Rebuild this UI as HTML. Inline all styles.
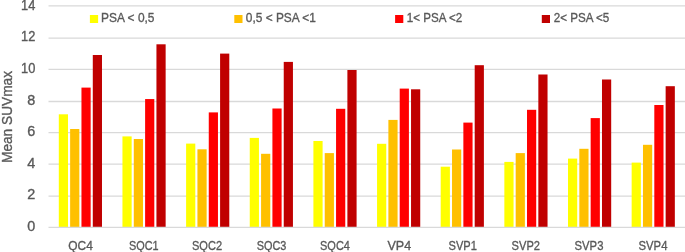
<!DOCTYPE html><html><head><meta charset="utf-8"><style>html,body{margin:0;padding:0;background:#fff;overflow:hidden}svg{display:block;will-change:transform}text{font-family:"Liberation Sans",sans-serif;fill:#595959;stroke:#595959;stroke-width:0.35px}</style></head><body><svg width="685" height="252" viewBox="0 0 685 252"><rect width="685" height="252" fill="#fff"/><line x1="48.50" y1="5.95" x2="685.00" y2="5.95" stroke="#D9D9D9" stroke-width="1.3"/><line x1="48.50" y1="38.10" x2="685.00" y2="38.10" stroke="#D9D9D9" stroke-width="1.3"/><line x1="48.50" y1="69.40" x2="685.00" y2="69.40" stroke="#D9D9D9" stroke-width="1.3"/><line x1="48.50" y1="101.50" x2="685.00" y2="101.50" stroke="#D9D9D9" stroke-width="1.3"/><line x1="48.50" y1="132.55" x2="685.00" y2="132.55" stroke="#D9D9D9" stroke-width="1.3"/><line x1="48.50" y1="164.10" x2="685.00" y2="164.10" stroke="#D9D9D9" stroke-width="1.3"/><line x1="48.50" y1="196.10" x2="685.00" y2="196.10" stroke="#D9D9D9" stroke-width="1.3"/><rect x="58.80" y="114.30" width="9.20" height="113.10" fill="#FFFF00"/><rect x="70.13" y="129.00" width="9.20" height="98.40" fill="#FFC000"/><rect x="81.46" y="87.60" width="9.20" height="139.80" fill="#FF0000"/><rect x="92.79" y="55.00" width="9.20" height="172.40" fill="#C00000"/><rect x="122.45" y="136.40" width="9.20" height="91.00" fill="#FFFF00"/><rect x="133.78" y="139.00" width="9.20" height="88.40" fill="#FFC000"/><rect x="145.11" y="99.05" width="9.20" height="128.35" fill="#FF0000"/><rect x="156.44" y="44.30" width="9.20" height="183.10" fill="#C00000"/><rect x="186.10" y="143.60" width="9.20" height="83.80" fill="#FFFF00"/><rect x="197.43" y="149.30" width="9.20" height="78.10" fill="#FFC000"/><rect x="208.76" y="112.40" width="9.20" height="115.00" fill="#FF0000"/><rect x="220.09" y="53.60" width="9.20" height="173.80" fill="#C00000"/><rect x="249.75" y="137.90" width="9.20" height="89.50" fill="#FFFF00"/><rect x="261.08" y="153.80" width="9.20" height="73.60" fill="#FFC000"/><rect x="272.41" y="108.50" width="9.20" height="118.90" fill="#FF0000"/><rect x="283.74" y="61.90" width="9.20" height="165.50" fill="#C00000"/><rect x="313.40" y="141.00" width="9.20" height="86.40" fill="#FFFF00"/><rect x="324.73" y="153.10" width="9.20" height="74.30" fill="#FFC000"/><rect x="336.06" y="108.80" width="9.20" height="118.60" fill="#FF0000"/><rect x="347.39" y="70.00" width="9.20" height="157.40" fill="#C00000"/><rect x="377.05" y="143.80" width="9.20" height="83.60" fill="#FFFF00"/><rect x="388.38" y="119.90" width="9.20" height="107.50" fill="#FFC000"/><rect x="399.71" y="88.60" width="9.20" height="138.80" fill="#FF0000"/><rect x="411.04" y="89.30" width="9.20" height="138.10" fill="#C00000"/><rect x="440.70" y="166.70" width="9.20" height="60.70" fill="#FFFF00"/><rect x="452.03" y="149.50" width="9.20" height="77.90" fill="#FFC000"/><rect x="463.36" y="122.60" width="9.20" height="104.80" fill="#FF0000"/><rect x="474.69" y="65.20" width="9.20" height="162.20" fill="#C00000"/><rect x="504.35" y="161.90" width="9.20" height="65.50" fill="#FFFF00"/><rect x="515.68" y="153.10" width="9.20" height="74.30" fill="#FFC000"/><rect x="527.01" y="109.80" width="9.20" height="117.60" fill="#FF0000"/><rect x="538.34" y="74.50" width="9.20" height="152.90" fill="#C00000"/><rect x="568.00" y="158.60" width="9.20" height="68.80" fill="#FFFF00"/><rect x="579.33" y="148.80" width="9.20" height="78.60" fill="#FFC000"/><rect x="590.66" y="118.10" width="9.20" height="109.30" fill="#FF0000"/><rect x="601.99" y="79.50" width="9.20" height="147.90" fill="#C00000"/><rect x="631.65" y="162.60" width="9.20" height="64.80" fill="#FFFF00"/><rect x="642.98" y="144.80" width="9.20" height="82.60" fill="#FFC000"/><rect x="654.31" y="105.00" width="9.20" height="122.40" fill="#FF0000"/><rect x="665.64" y="86.20" width="9.20" height="141.20" fill="#C00000"/><line x1="48.50" y1="227.40" x2="685.00" y2="227.40" stroke="#D9D9D9" stroke-width="1.3"/><text x="21.00" y="9.90" font-size="14.40" textLength="14.3" lengthAdjust="spacingAndGlyphs">14</text><text x="21.00" y="41.47" font-size="14.40" textLength="14.3" lengthAdjust="spacingAndGlyphs">12</text><text x="21.00" y="73.04" font-size="14.40" textLength="14.3" lengthAdjust="spacingAndGlyphs">10</text><text x="35.3" y="104.61" font-size="14.40" text-anchor="end">8</text><text x="35.3" y="136.18" font-size="14.40" text-anchor="end">6</text><text x="35.3" y="167.75" font-size="14.40" text-anchor="end">4</text><text x="35.3" y="199.32" font-size="14.40" text-anchor="end">2</text><text x="35.3" y="230.89" font-size="14.40" text-anchor="end">0</text><text x="68.20" y="250.2" font-size="13.60" textLength="24.60" lengthAdjust="spacingAndGlyphs">QC4</text><text x="129.00" y="250.2" font-size="13.60" textLength="29.60" lengthAdjust="spacingAndGlyphs">SQC1</text><text x="191.95" y="250.2" font-size="13.60" textLength="30.10" lengthAdjust="spacingAndGlyphs">SQC2</text><text x="256.65" y="250.2" font-size="13.60" textLength="29.70" lengthAdjust="spacingAndGlyphs">SQC3</text><text x="320.05" y="250.2" font-size="13.60" textLength="29.90" lengthAdjust="spacingAndGlyphs">SQC4</text><text x="387.45" y="250.2" font-size="13.60" textLength="23.70" lengthAdjust="spacingAndGlyphs">VP4</text><text x="448.55" y="250.2" font-size="13.60" textLength="28.30" lengthAdjust="spacingAndGlyphs">SVP1</text><text x="511.60" y="250.2" font-size="13.60" textLength="28.40" lengthAdjust="spacingAndGlyphs">SVP2</text><text x="574.55" y="250.2" font-size="13.60" textLength="28.90" lengthAdjust="spacingAndGlyphs">SVP3</text><text x="638.55" y="250.2" font-size="13.60" textLength="28.90" lengthAdjust="spacingAndGlyphs">SVP4</text><text transform="translate(11.9,163) rotate(-90)" x="0" y="0" font-size="14.80" textLength="92.0" lengthAdjust="spacingAndGlyphs">Mean SUVmax</text><rect x="89.90" y="15" width="8.2" height="8" fill="#FFFF00"/><text x="101.10" y="22.4" font-size="13.70" textLength="53.40" lengthAdjust="spacingAndGlyphs">PSA &lt; 0,5</text><rect x="234.30" y="15" width="8.2" height="8" fill="#FFC000"/><text x="245.80" y="22.4" font-size="13.70" textLength="70.10" lengthAdjust="spacingAndGlyphs">0,5 &lt; PSA &lt;1</text><rect x="395.10" y="15" width="8.2" height="8" fill="#FF0000"/><text x="406.80" y="22.4" font-size="13.70" textLength="55.40" lengthAdjust="spacingAndGlyphs">1&lt; PSA &lt;2</text><rect x="541.80" y="15" width="8.2" height="8" fill="#C00000"/><text x="553.70" y="22.4" font-size="13.70" textLength="55.60" lengthAdjust="spacingAndGlyphs">2&lt; PSA &lt;5</text></svg></body></html>
